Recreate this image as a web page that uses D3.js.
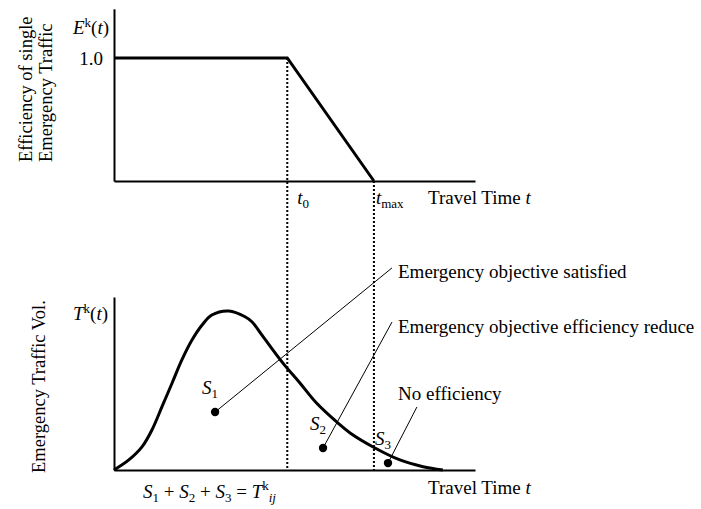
<!DOCTYPE html>
<html>
<head>
<meta charset="utf-8">
<script src="https://cdn.jsdelivr.net/npm/d3@7"></script>
<style>
  html, body { margin: 0; padding: 0; background: #fff; }
  svg { display: block; }
  text { font-family: "Liberation Serif", "Times New Roman", serif; fill: #000; }
</style>
</head>
<body>
<svg id="chart" width="701" height="509"></svg>
<script>
// ---------- data ----------
// top panel: efficiency of a single emergency traffic vs travel time
const effTime = [0, 48, 72];
const effValue = [1.0, 1.0, 0.0];
const t0Value = 48;
const tmaxValue = 72;
const effTicks = [1.0];

// bottom panel: emergency traffic volume distribution
const volTime  = [0, 4.1, 7.8, 10.5, 13.3, 16.1, 18.8, 21.6, 24.4, 27.1, 31.8, 36.3, 38.2, 41.3, 46.8, 51.5, 56.1, 62.0, 65.4, 72.3, 79.2, 85.6, 91.1];
const volValue = [0, 5.8, 13.5, 23.1, 36.6, 50.3, 63.6, 75.1, 83.8, 89.6, 91.9, 88.6, 85.7, 77.1, 61.8, 50.3, 38.7, 27.2, 21.4, 12.7, 5.8, 1.9, 0];

// area markers S1, S2, S3
const areaNames = ["1", "2", "3"];
const areaTime  = [28.0, 57.9, 75.9];
const areaValue = [33.5, 12.7, 4.0];

// annotation leaders (end point of each leader line)
const noteText  = ["Emergency objective satisfied", "Emergency objective efficiency reduce", "No efficiency"];
const noteTime  = [77.0, 77.0, 83.9];
const noteValue = [116.8, 85.5, 36.4];

// ---------- layout ----------
const svg = d3.select("#chart");
const FS = 19;

const x = d3.scaleLinear().domain([0, 100]).range([114, 475]);
const yTop = d3.scaleLinear().domain([0, 1.4]).range([181, 8.8]);
const yBot = d3.scaleLinear().domain([0, 100]).range([470, 297]);

// ---------- axes ----------
function styleAxis(g) {
  g.select(".domain").attr("stroke", "#000").attr("stroke-width", 2);
  g.selectAll(".tick line").remove();
  g.selectAll(".tick text")
    .attr("font-family", '"Liberation Serif", "Times New Roman", serif')
    .attr("font-size", FS).attr("fill", "#000");
}
svg.append("g").attr("transform", `translate(0,${yTop(0)})`)
  .call(d3.axisBottom(x).tickValues([]).tickSizeOuter(0)).call(styleAxis);
svg.append("g").attr("transform", `translate(${x(0)},0)`)
  .call(d3.axisLeft(yTop).tickValues(effTicks).tickSize(0).tickSizeOuter(0).tickPadding(11).tickFormat(d3.format(".1f")))
  .call(styleAxis);
svg.append("g").attr("transform", `translate(0,${yBot(0)})`)
  .call(d3.axisBottom(x).tickValues([]).tickSizeOuter(0)).call(styleAxis);
svg.append("g").attr("transform", `translate(${x(0)},0)`)
  .call(d3.axisLeft(yBot).tickValues([]).tickSizeOuter(0)).call(styleAxis);

// ---------- dotted guides ----------
svg.append("line")
  .attr("x1", x(t0Value)).attr("x2", x(t0Value))
  .attr("y1", yTop(1.0)).attr("y2", yBot(0))
  .attr("stroke", "#000").attr("stroke-width", 2).attr("stroke-dasharray", "2,2");
svg.append("line")
  .attr("x1", x(tmaxValue)).attr("x2", x(tmaxValue))
  .attr("y1", yTop(0)).attr("y2", yBot(0))
  .attr("stroke", "#000").attr("stroke-width", 2).attr("stroke-dasharray", "2,2");

// ---------- top efficiency line ----------
const effData = effTime.map((t, i) => ({ t, v: effValue[i] }));
svg.append("path").datum(effData)
  .attr("fill", "none").attr("stroke", "#000").attr("stroke-width", 3)
  .attr("stroke-linejoin", "miter")
  .attr("d", d3.line().x(d => x(d.t)).y(d => yTop(d.v)));

// ---------- bottom volume curve ----------
const volData = volTime.map((t, i) => ({ t, v: volValue[i] }));
svg.append("path").datum(volData)
  .attr("fill", "none").attr("stroke", "#000").attr("stroke-width", 3)
  .attr("d", d3.line().x(d => x(d.t)).y(d => yBot(d.v)).curve(d3.curveCatmullRom.alpha(0.5)));

// ---------- leaders & dots ----------
const notes = areaNames.map((n, i) => ({
  n, t: areaTime[i], v: areaValue[i],
  text: noteText[i], et: noteTime[i], ev: noteValue[i]
}));
const labelDy = [10, 11, -7];

svg.selectAll(".leader").data(notes).enter().append("line")
  .attr("class", "leader")
  .attr("x1", d => x(d.t)).attr("y1", d => yBot(d.v))
  .attr("x2", d => x(d.et)).attr("y2", d => yBot(d.ev))
  .attr("stroke", "#000").attr("stroke-width", 1);

svg.selectAll(".dot").data(notes).enter().append("circle")
  .attr("class", "dot")
  .attr("cx", d => x(d.t)).attr("cy", d => yBot(d.v)).attr("r", 4.2)
  .attr("fill", "#000");

svg.selectAll(".note").data(notes).enter().append("text")
  .attr("class", "note")
  .attr("x", 398)
  .attr("y", (d, i) => yBot(d.ev) + labelDy[i])
  .attr("font-size", FS)
  .text(d => d.text);

const sLab = svg.selectAll(".slab").data(notes).enter().append("text")
  .attr("class", "slab")
  .attr("x", d => x(d.t) - 13)
  .attr("y", d => yBot(d.v) - 18)
  .attr("font-size", FS);
sLab.append("tspan").attr("font-style", "italic").text("S");
sLab.append("tspan").attr("font-size", 13).attr("dy", 4).text(d => d.n);

// ---------- texts ----------
// E^k(t)
{
  const t = svg.append("text").attr("x", 73).attr("y", 34).attr("font-size", FS);
  t.append("tspan").attr("font-style", "italic").text("E");
  t.append("tspan").attr("font-size", 13).attr("dy", -7).text("k");
  t.append("tspan").attr("dy", 7).text("(");
  t.append("tspan").attr("font-style", "italic").text("t");
  t.append("tspan").text(")");
}
// T^k(t)
{
  const t = svg.append("text").attr("x", 73).attr("y", 320).attr("font-size", FS);
  t.append("tspan").attr("font-style", "italic").text("T");
  t.append("tspan").attr("font-size", 13).attr("dy", -7).text("k");
  t.append("tspan").attr("dy", 7).text("(");
  t.append("tspan").attr("font-style", "italic").text("t");
  t.append("tspan").text(")");
}
// t0 and tmax
{
  const t = svg.append("text").attr("x", x(t0Value) + 10).attr("y", 204).attr("font-size", FS);
  t.append("tspan").attr("font-style", "italic").text("t");
  t.append("tspan").attr("font-size", 13).attr("dy", 4).text("0");
  const u = svg.append("text").attr("x", x(tmaxValue) + 2).attr("y", 204).attr("font-size", FS);
  u.append("tspan").attr("font-style", "italic").text("t");
  u.append("tspan").attr("font-size", 13).attr("dy", 4).text("max");
}
// Travel Time t (top & bottom)
[204, 494].forEach(yy => {
  const t = svg.append("text").attr("x", 428).attr("y", yy).attr("font-size", FS);
  t.append("tspan").text("Travel Time ");
  t.append("tspan").attr("font-style", "italic").text("t");
});
// S1 + S2 + S3 = T^k_ij
{
  const t = svg.append("text").attr("x", 143).attr("y", 498).attr("font-size", FS);
  ["1", "2", "3"].forEach((n, i) => {
    t.append("tspan").attr("font-style", "italic").text("S");
    t.append("tspan").attr("font-size", 13).attr("dy", 4).text(n);
    t.append("tspan").attr("dy", -4).text(i < 2 ? " + " : " = ");
  });
  t.append("tspan").attr("font-style", "italic").text("T");
  t.append("tspan").attr("font-size", 13).attr("dy", -8).text("k");
  t.append("tspan").attr("font-size", 13).attr("font-style", "italic").attr("dy", 12).text("ij");
}
// rotated axis titles
svg.append("text").attr("transform", "translate(32,162) rotate(-90)")
  .attr("font-size", 18.5).text("Efficiency of single");
svg.append("text").attr("transform", "translate(52,162) rotate(-90)")
  .attr("font-size", 18.5).text("Emergency Traffic");
svg.append("text").attr("transform", "translate(45,473) rotate(-90)")
  .attr("font-size", 18.5).text("Emergency Traffic Vol.");
</script>
</body>
</html>
